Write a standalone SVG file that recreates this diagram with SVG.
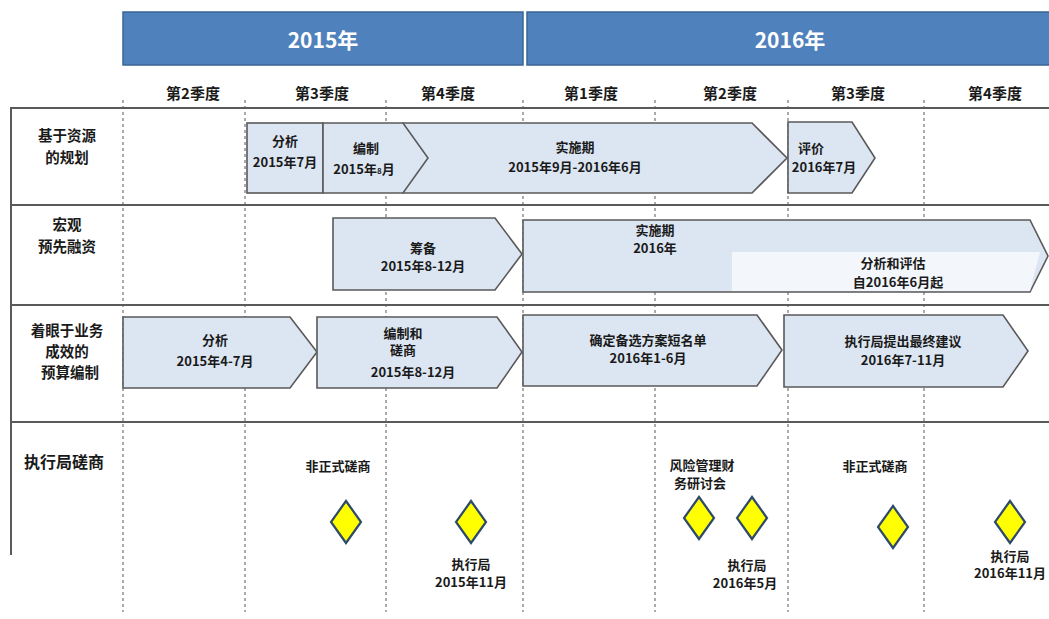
<svg xmlns="http://www.w3.org/2000/svg" width="1049" height="619" viewBox="0 0 1049 619">
<style>
text{font-family:"Noto Sans CJK SC","Noto Sans",sans-serif;font-weight:bold;fill:#1a1a1a;text-anchor:middle}
.yr{fill:#fff;font-size:21px}
.q{font-size:15px}
.rl{font-size:14.5px}
.t{font-size:13px}
.bar{fill:#4F81BD;stroke:#3A6597;stroke-width:1.5}
.sh{fill:#DCE6F2;stroke:#595959;stroke-width:1.6}
.dash{stroke:#7f7f7f;stroke-width:1.3;stroke-dasharray:3 3;fill:none}
.hl{stroke:#5a5a5a;stroke-width:2;fill:none}
.dm{fill:#FFFF00;stroke:#2E4A6B;stroke-width:2.2}
</style>
<rect width="1049" height="619" fill="#fff"/>
<g id="header">
<rect class="bar" x="123" y="12" width="400" height="53"/>
<rect class="bar" x="527" y="12" width="530" height="53"/>
<text class="yr" x="323" y="48">2015年</text>
<text class="yr" x="790" y="48">2016年</text>
<text class="q" x="193" y="99">第2季度</text>
<text class="q" x="322" y="99">第3季度</text>
<text class="q" x="448" y="99">第4季度</text>
<text class="q" x="591" y="99">第1季度</text>
<text class="q" x="730" y="99">第2季度</text>
<text class="q" x="858" y="99">第3季度</text>
<text class="q" x="995" y="99">第4季度</text>
</g>
<g id="grid">
<line class="dash" x1="123" y1="100" x2="123" y2="612"/>
<line class="dash" x1="245" y1="100" x2="245" y2="612"/>
<line class="dash" x1="386" y1="100" x2="386" y2="612"/>
<line class="dash" x1="523" y1="100" x2="523" y2="612"/>
<line class="dash" x1="655" y1="100" x2="655" y2="612"/>
<line class="dash" x1="788" y1="100" x2="788" y2="612"/>
<line class="dash" x1="924" y1="100" x2="924" y2="612"/>
<line class="hl" x1="10" y1="108" x2="1049" y2="108"/>
<line class="hl" x1="10" y1="205" x2="1049" y2="205"/>
<line class="hl" x1="10" y1="305" x2="1049" y2="305"/>
<line class="hl" x1="10" y1="422" x2="1049" y2="422"/>
<line class="hl" x1="11" y1="108" x2="11" y2="555"/>
</g>
<g id="row-labels">
<text class="rl" x="67" y="141">基于资源</text>
<text class="rl" x="67" y="163">的规划</text>
<text class="rl" x="67" y="230">宏观</text>
<text class="rl" x="67" y="252">预先融资</text>
<text class="rl" x="67" y="336">着眼于业务</text>
<text class="rl" x="67" y="357">成效的</text>
<text class="rl" x="70" y="378">预算编制</text>
<text class="rl" x="24" y="468" style="text-anchor:start;font-size:16px">执行局磋商</text>
</g>
<g id="row1">
<g id="r1-impl">
<polygon class="sh" points="403,123 752,123 787,158 752,193 403,193"/>
<text class="t" x="575" y="152">实施期</text>
<text class="t" x="575" y="172">2015年9月-2016年6月</text>
</g>
<g id="r1-analysis">
<rect class="sh" x="247" y="123" width="76" height="70"/>
<text class="t" x="285" y="146">分析</text>
<text class="t" x="285" y="167">2015年7月</text>
</g>
<g id="r1-draft">
<polygon class="sh" points="323,123 403,123 428,158 403,193 323,193"/>
<text class="t" x="366" y="153">编制</text>
<text class="t" x="364" y="174">2015年<tspan font-size="8">8</tspan>月</text>
</g>
<g id="r1-eval">
<polygon class="sh" points="788,122 852,122 875,158 852,193 788,193"/>
<text class="t" x="811" y="153">评价</text>
<text class="t" x="824" y="172">2016年7月</text>
</g>
</g>
<g id="row2">
<g id="r2-prep">
<polygon class="sh" points="333,218 495,218 522,254 495,290 333,290"/>
<text class="t" x="423" y="253">筹备</text>
<text class="t" x="423" y="271">2015年8-12月</text>
</g>
<g id="r2-impl">
<polygon class="sh" points="523,220 1030,220 1048,256 1030,292 523,292"/>
<polygon points="732,252 1040,252 1030,291 732,291" fill="#f3f6fa"/>
<text class="t" x="655" y="235">实施期</text>
<text class="t" x="655" y="253">2016年</text>
<text class="t" x="893" y="268">分析和评估</text>
<text class="t" x="898" y="287">自2016年6月起</text>
</g>
</g>
<g id="row3">
<g id="r3-analysis">
<polygon class="sh" points="123,317 290,317 317,352 290,388 123,388"/>
<text class="t" x="215" y="345">分析</text>
<text class="t" x="215" y="366">2015年4-7月</text>
</g>
<g id="r3-draft">
<polygon class="sh" points="317,317 497,317 522,352 497,388 317,388"/>
<text class="t" x="403" y="338">编制和</text>
<text class="t" x="403" y="355">磋商</text>
<text class="t" x="413" y="377">2015年8-12月</text>
</g>
<g id="r3-shortlist">
<polygon class="sh" points="523,315 757,315 782,350 757,386 523,386"/>
<text class="t" x="648" y="345">确定备选方案短名单</text>
<text class="t" x="648" y="363">2016年1-6月</text>
</g>
<g id="r3-final">
<polygon class="sh" points="784,315 1003,315 1028,351 1003,387 784,387"/>
<text class="t" x="903" y="346">执行局提出最终建议</text>
<text class="t" x="903" y="365">2016年7-11月</text>
</g>
</g>
<g id="row4">
<text class="t" x="338" y="471">非正式磋商</text>
<polygon id="m1" class="dm" points="346,501 361,522 346,543 331,522"/>
<polygon id="m2" class="dm" points="471,501 486,522 471,543 456,522"/>
<text class="t" x="471" y="569">执行局</text>
<text class="t" x="471" y="587">2015年11月</text>
<text class="t" x="702" y="470">风险管理财</text>
<text class="t" x="700" y="488">务研讨会</text>
<polygon id="m3" class="dm" points="699,497 714,518 699,539 684,518"/>
<polygon id="m4" class="dm" points="752,497 767,518 752,539 737,518"/>
<text class="t" x="747" y="570">执行局</text>
<text class="t" x="745" y="588">2016年5月</text>
<text class="t" x="875" y="471">非正式磋商</text>
<polygon id="m5" class="dm" points="893,506 908,527 893,548 878,527"/>
<polygon id="m6" class="dm" points="1010,501 1025,522 1010,543 995,522"/>
<text class="t" x="1010" y="561">执行局</text>
<text class="t" x="1010" y="578">2016年11月</text>
</g>
</svg>
